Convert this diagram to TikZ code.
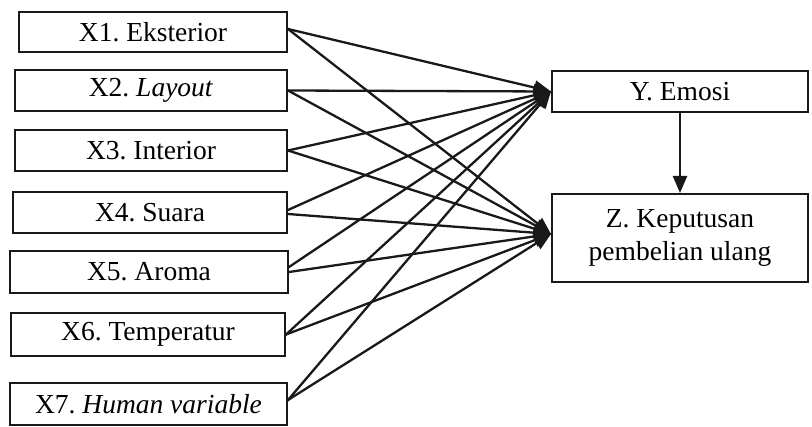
\documentclass[tikz,border=0pt]{standalone}
\usepackage{fontspec}
\setmainfont{Liberation Serif}
\usetikzlibrary{arrows.meta}
\frenchspacing
\begin{document}
\begin{tikzpicture}[x=1pt,y=-1pt,
  box/.style={draw=black!90, line width=2pt, rectangle, inner sep=0pt,
    font=\fontsize{27.5}{33}\selectfont, align=center},
  conn/.style={draw=black!90, line width=2.3pt,
    -{Triangle[length=17pt,width=14pt]}, shorten <=-1pt}]
\useasboundingbox (0,0) rectangle (812,427);
\node[box, minimum width=268pt, minimum height=40pt] (X1) at (153,32) {X1. Eksterior};
\node[box, minimum width=272pt, minimum height=41pt] (X2) at (151,90.5) {X2. \textit{Layout}};
\node[box, minimum width=272pt, minimum height=41pt] (X3) at (151,150.5) {X3. Interior};
\node[box, minimum width=274pt, minimum height=41pt] (X4) at (150,212.5) {X4. Suara};
\node[box, minimum width=278pt, minimum height=42pt] (X5) at (149,272) {X5. Aroma};
\node[box, minimum width=274pt, minimum height=43pt] (X6) at (148,334.5) {X6. Temperatur};
\node[box, minimum width=277pt, minimum height=42pt] (X7) at (148.5,404) {X7. \textit{Human variable}};
\node[box, minimum width=256pt, minimum height=41pt] (Y) at (680,91.5) {Y. Emosi};
\node[box, minimum width=256pt, minimum height=88pt] (Z) at (680,238) {Z. Keputusan\\pembelian ulang};
% to Y
\draw[conn] ([yshift=3pt]X1.east) -- (Y.west);
\draw[conn] (X2.east) -- (Y.west);
\draw[conn] (X3.east) -- (Y.west);
\draw[conn] ([yshift=2.5pt]X4.east) -- (Y.west);
\draw[conn] ([yshift=5pt]X5.east) -- (Y.west);
\draw[conn] (X6.east) -- (Y.west);
\draw[conn] ([yshift=4pt]X7.east) -- (Y.west);
% to Z
\draw[conn] ([yshift=3pt]X1.east) -- ([yshift=4pt]Z.west);
\draw[conn] (X2.east) -- ([yshift=4pt]Z.west);
\draw[conn] (X3.east) -- ([yshift=4pt]Z.west);
\draw[conn] ([yshift=-1.5pt]X4.east) -- ([yshift=4pt]Z.west);
\draw[conn] (X5.east) -- ([yshift=4pt]Z.west);
\draw[conn] (X6.east) -- ([yshift=4pt]Z.west);
\draw[conn] ([yshift=4pt]X7.east) -- ([yshift=4pt]Z.west);
% Y to Z
\draw[conn, shorten <=0pt] (Y.south) -- (Z.north);
\end{tikzpicture}
\end{document}
